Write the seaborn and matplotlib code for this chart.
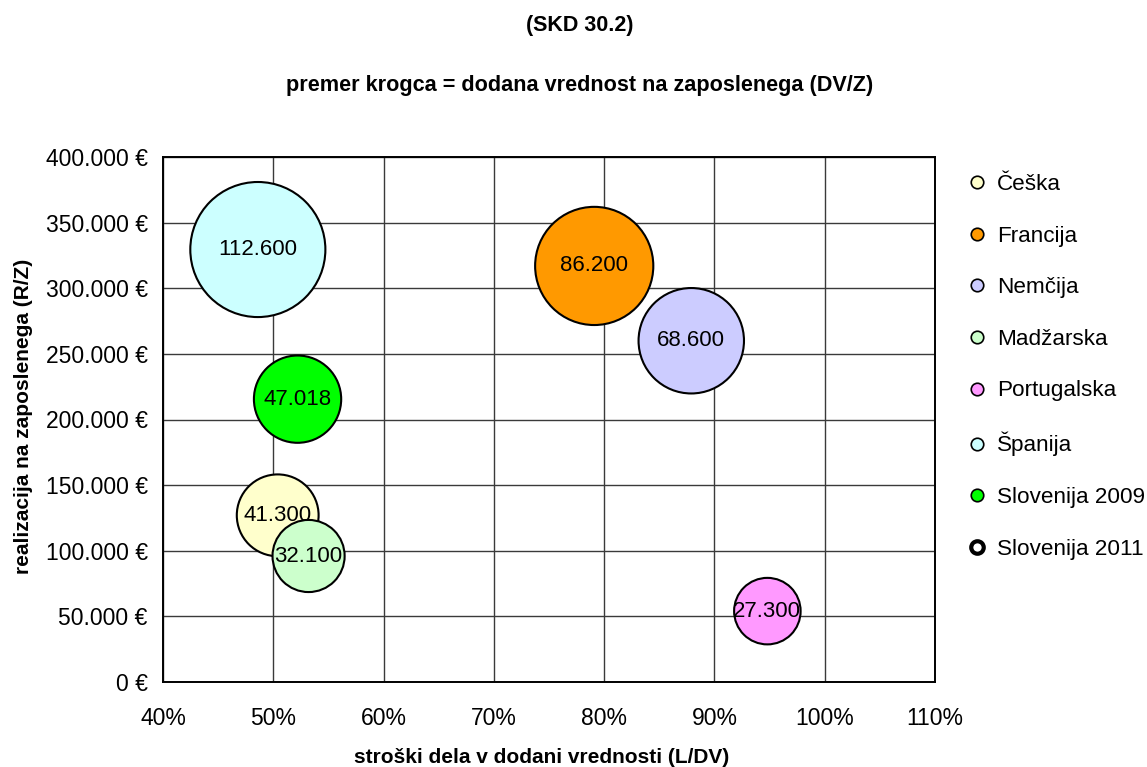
import matplotlib
matplotlib.use("Agg")
import matplotlib.pyplot as plt
from matplotlib.lines import Line2D
from matplotlib.ticker import FuncFormatter, MultipleLocator
import pandas as pd
import seaborn as sns

# Countries and their indicators (SKD 30.2)
countries = ["Češka", "Francija", "Nemčija", "Madžarska", "Portugalska", "Španija", "Slovenija 2009"]
labour_cost_share = [50.4, 79.1, 87.9, 53.2, 94.8, 48.6, 52.2]          # L/DV, %
revenue_per_employee = [127000, 317000, 260000, 96000, 54000, 329500, 215500]  # R/Z, €
value_added_per_employee = [41300, 86200, 68600, 32100, 27300, 112600, 47018]  # DV/Z, €

legend_labels = countries + ["Slovenija 2011"]
fill_colors = ["#FFFFCC", "#FF9900", "#CCCCFF", "#CCFFCC", "#FF99FF", "#CCFFFF", "#00FF00"]

df = pd.DataFrame({
    "drzava": countries,
    "ldv": labour_cost_share,
    "rz": revenue_per_employee,
    "dvz": value_added_per_employee,
})

sns.set_style("white")
plt.rcParams["font.family"] = ["Liberation Sans", "DejaVu Sans"]
plt.rcParams["text.color"] = "black"
plt.rcParams["axes.labelcolor"] = "black"

fig = plt.figure(figsize=(11.47, 7.67), dpi=100)
ax = fig.add_axes([163 / 1147, 1 - 682 / 767, 772 / 1147, 525 / 767])

# bubble area proportional to value added per employee
max_v = max(value_added_per_employee)
area_per_unit = 84.0 / 1000.0
sns.scatterplot(
    data=df, x="ldv", y="rz", hue="drzava", hue_order=countries,
    palette=dict(zip(countries, fill_colors)),
    size="dvz", sizes=(0, area_per_unit * max_v), size_norm=(0, max_v),
    edgecolor="black", linewidth=1.5, alpha=1, legend=False, ax=ax, zorder=3,
)

for x, y, v in zip(labour_cost_share, revenue_per_employee, value_added_per_employee):
    ax.text(x, y, f"{v:,}".replace(",", "."), ha="center", va="center",
            fontsize=16, color="black", zorder=5)

ax.set_xlim(40, 110)
ax.set_ylim(0, 400000)
ax.xaxis.set_major_locator(MultipleLocator(10))
ax.yaxis.set_major_locator(MultipleLocator(50000))
ax.xaxis.set_major_formatter(FuncFormatter(lambda v, p: f"{v:.0f}%"))
ax.yaxis.set_major_formatter(FuncFormatter(lambda v, p: f"{int(v):,} €".replace(",", ".")))
ax.tick_params(axis="both", which="major", direction="out", length=6, width=1,
               labelsize=16.5, color="black", labelcolor="black")
ax.tick_params(axis="y", pad=5)
ax.tick_params(axis="x", pad=12)
ax.grid(True, color="#3a3a3a", linewidth=1.0, zorder=0)
ax.set_axisbelow(True)
for s in ax.spines.values():
    s.set_color("black")
    s.set_linewidth(1.4)
    s.set_visible(True)

ax.set_xlabel("stroški dela v dodani vrednosti (L/DV)", fontsize=15, fontweight="bold")
ax.set_ylabel("realizacija na zaposlenega (R/Z)", fontsize=15, fontweight="bold")
ax.xaxis.set_label_coords(0.49, -0.125)
ax.yaxis.set_label_coords(-0.168, 0.505)

fig.text(580 / 1147, 1 - 26 / 767, "(SKD 30.2)", ha="center", va="center",
         fontsize=15.5, fontweight="bold")
fig.text(580 / 1147, 1 - 86 / 767, "premer krogca = dodana vrednost na zaposlenega (DV/Z)",
         ha="center", va="center", fontsize=15.6, fontweight="bold")

handles = [Line2D([], [], linestyle="none", marker="o", markersize=9,
                  markerfacecolor=c, markeredgecolor="black", markeredgewidth=1.2)
           for c in fill_colors]
handles.append(Line2D([], [], linestyle="none", marker="o", markersize=9,
                      markerfacecolor="white", markeredgecolor="black", markeredgewidth=3))
fig.legend(handles, legend_labels, loc="upper left",
           bbox_to_anchor=(968 / 1147, 1 - 174 / 767), frameon=False,
           fontsize=16.2, labelspacing=1.36, handlelength=0.8, handletextpad=0.5,
           borderaxespad=0, borderpad=0)

fig.savefig("out.png", dpi=100)
